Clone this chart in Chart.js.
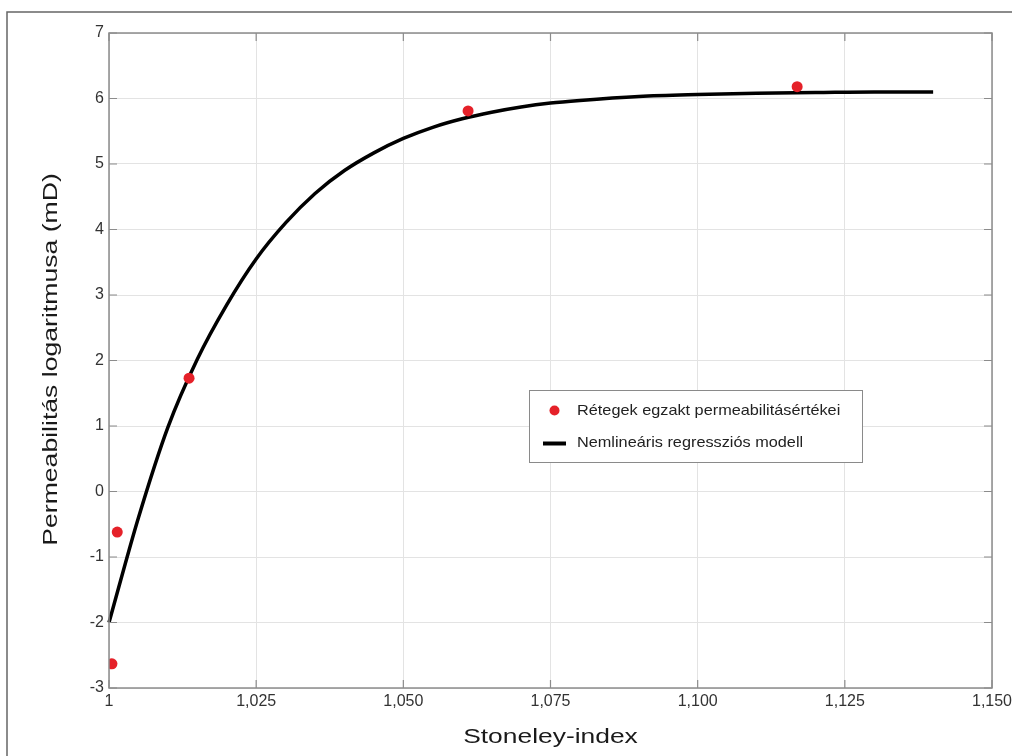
<!DOCTYPE html>
<html>
<head>
<meta charset="utf-8">
<script src="https://cdn.jsdelivr.net/npm/chart.js@4.4.1/dist/chart.umd.min.js"></script>
<style>
  html, body { margin: 0; padding: 0; background: #fff; }
  #wrap { position: relative; width: 1012px; height: 756px; }
  canvas { display: block; }
</style>
</head>
<body>
<div id="wrap"><canvas id="c" width="1012" height="756"></canvas></div>
<script>
// ---- data ----
const pointsX = [1.0005, 1.0014, 1.0136, 1.061, 1.1169];
const pointsY = [-2.63, -0.62, 1.73, 5.81, 6.18];

const curveX = [1.000, 1.005, 1.010, 1.015, 1.020, 1.025, 1.030, 1.035, 1.040, 1.045, 1.050, 1.055, 1.060, 1.065, 1.070, 1.075, 1.080, 1.090, 1.100, 1.110, 1.120, 1.130, 1.140];
const curveY = [-2.00, -0.40, 0.98, 2.02, 2.85, 3.55, 4.10, 4.55, 4.90, 5.17, 5.39, 5.56, 5.69, 5.79, 5.87, 5.93, 5.97, 6.03, 6.06, 6.08, 6.09, 6.10, 6.10];

const xTickValues = [1, 1.025, 1.05, 1.075, 1.1, 1.125, 1.15];
const xTickLabels = ['1', '1,025', '1,050', '1,075', '1,100', '1,125', '1,150'];
const yTickValues = [-3, -2, -1, 0, 1, 2, 3, 4, 5, 6, 7];
const yTickLabels = ['-3', '-2', '-1', '0', '1', '2', '3', '4', '5', '6', '7'];

const seriesNames = ['Rétegek egzakt permeabilitásértékei', 'Nemlineáris regressziós modell'];
const xTitle = 'Stoneley-index';
const yTitle = 'Permeabilitás logaritmusa (mD)';

const RED = '#e52129';
const AXIS = '#8c8c8c';

const decor = {
  id: 'decor',
  beforeDraw(chart) {
    const ctx = chart.ctx;
    ctx.save();
    ctx.fillStyle = '#fff';
    ctx.fillRect(0, 0, chart.width, chart.height);
    // outer frame
    ctx.strokeStyle = '#666';
    ctx.lineWidth = 1.5;
    ctx.beginPath();
    ctx.moveTo(7, 757);
    ctx.lineTo(7, 12);
    ctx.lineTo(1013, 12);
    ctx.stroke();
    ctx.restore();
  },
  afterDatasetsDraw(chart) {
    const ctx = chart.ctx;
    const a = chart.chartArea;
    const xs = chart.scales.x, ys = chart.scales.y;
    ctx.save();
    // plot border
    ctx.strokeStyle = AXIS;
    ctx.lineWidth = 1.5;
    ctx.strokeRect(a.left, a.top, a.right - a.left, a.bottom - a.top);
    // inward ticks
    ctx.lineWidth = 1.2;
    ctx.beginPath();
    xTickValues.forEach(v => {
      const px = xs.getPixelForValue(v);
      ctx.moveTo(px, a.bottom); ctx.lineTo(px, a.bottom - 8);
      ctx.moveTo(px, a.top); ctx.lineTo(px, a.top + 8);
    });
    yTickValues.forEach(v => {
      const py = ys.getPixelForValue(v);
      ctx.moveTo(a.left, py); ctx.lineTo(a.left + 8, py);
      ctx.moveTo(a.right, py); ctx.lineTo(a.right - 8, py);
    });
    ctx.stroke();

    // legend
    const L = { x: 529, y: 390, w: 333, h: 72 };
    ctx.fillStyle = '#fff';
    ctx.fillRect(L.x, L.y, L.w, L.h);
    ctx.strokeStyle = '#8a8a8a';
    ctx.lineWidth = 1;
    ctx.strokeRect(L.x + 0.5, L.y + 0.5, L.w, L.h);
    ctx.fillStyle = RED;
    ctx.beginPath();
    ctx.arc(554.5, 410.5, 5, 0, Math.PI * 2);
    ctx.fill();
    ctx.strokeStyle = '#000';
    ctx.lineWidth = 4;
    ctx.beginPath();
    ctx.moveTo(543, 443.5); ctx.lineTo(566, 443.5);
    ctx.stroke();
    ctx.fillStyle = '#222';
    ctx.font = '15px "Liberation Sans", Arial, sans-serif';
    ctx.textBaseline = 'middle';
    ctx.textAlign = 'left';
    [[seriesNames[0], 411], [seriesNames[1], 443]].forEach(([t, y]) => {
      ctx.save();
      ctx.translate(577, y);
      ctx.scale(1.085, 1);
      ctx.fillText(t, 0, 0);
      ctx.restore();
    });

    // axis titles (stretched to match reference)
    ctx.fillStyle = '#1a1a1a';
    ctx.font = '20px "Liberation Sans", Arial, sans-serif';
    ctx.textAlign = 'center';
    ctx.textBaseline = 'alphabetic';
    ctx.save();
    ctx.translate((a.left + a.right) / 2, 743);
    ctx.scale(1.32, 1);
    ctx.fillText(xTitle, 0, 0);
    ctx.restore();
    ctx.save();
    ctx.translate(57, (a.top + a.bottom) / 2 - 1);
    ctx.rotate(-Math.PI / 2);
    ctx.scale(1.33, 1);
    ctx.fillText(yTitle, 0, 0);
    ctx.restore();
    ctx.restore();
  }
};

new Chart(document.getElementById('c'), {
  type: 'scatter',
  data: {
    datasets: [
      {
        label: seriesNames[0],
        data: pointsX.map((x, i) => ({ x, y: pointsY[i] })),
        backgroundColor: RED,
        borderColor: RED,
        borderWidth: 0,
        pointRadius: 5.5,
        pointHoverRadius: 5.5,
        showLine: false
      },
      {
        label: seriesNames[1],
        data: curveX.map((x, i) => ({ x, y: curveY[i] })),
        borderColor: '#000',
        backgroundColor: '#000',
        borderWidth: 3.5,
        pointRadius: 0,
        showLine: true,
        cubicInterpolationMode: 'monotone',
        clip: false
      }
    ]
  },
  options: {
    responsive: false,
    animation: false,
    events: [],
    layout: { padding: { left: 0, top: 33, right: 20, bottom: 0 } },
    plugins: { legend: { display: false }, tooltip: { enabled: false } },
    scales: {
      x: {
        type: 'linear',
        min: 1, max: 1.15,
        afterFit(s) { s.height = 68; s.paddingLeft = 0; s.paddingRight = 0; },
        afterBuildTicks(s) { s.ticks = xTickValues.map(v => ({ value: v })); },
        grid: { color: '#e3e3e3', lineWidth: 1, drawTicks: false },
        border: { display: false },
        ticks: {
          padding: 4,
          color: '#333',
          font: { family: '"Liberation Sans", Arial, sans-serif', size: 16 },
          maxRotation: 0,
          autoSkip: false,
          callback: (v, i) => xTickLabels[i]
        }
      },
      y: {
        type: 'linear',
        min: -3, max: 7,
        afterFit(s) { s.width = 109; s.paddingTop = 0; s.paddingBottom = 0; },
        afterBuildTicks(s) { s.ticks = yTickValues.map(v => ({ value: v })); },
        grid: { color: '#e3e3e3', lineWidth: 1, drawTicks: false },
        border: { display: false },
        ticks: {
          padding: 5,
          color: '#333',
          font: { family: '"Liberation Sans", Arial, sans-serif', size: 16 },
          autoSkip: false,
          callback: (v, i) => yTickLabels[i]
        }
      }
    }
  },
  plugins: [decor]
});
</script>
</body>
</html>
